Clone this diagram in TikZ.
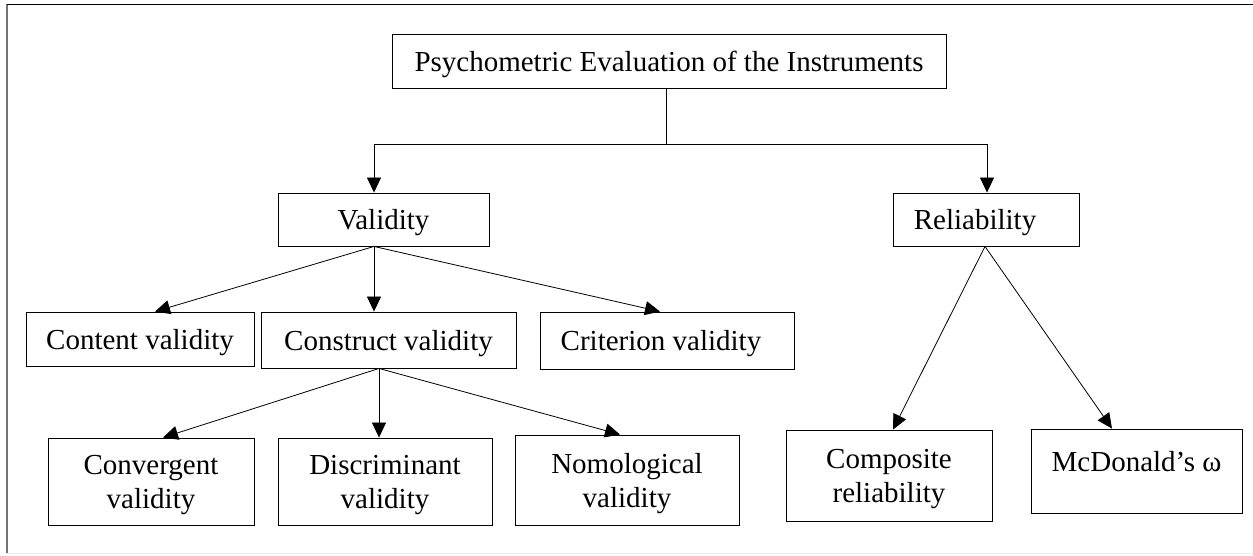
\documentclass[tikz,border=0pt]{standalone}
\usepackage{fontspec}
\setmainfont{Liberation Serif}
\usetikzlibrary{arrows.meta}
\begin{document}
\begin{tikzpicture}[x=1pt,y=-1pt,
  box/.style={draw=black, line width=0.9pt, rectangle, inner sep=0pt,
    align=center, text depth=0pt, font=\fontsize{29}{34}\selectfont},
  arr/.style={draw=black, line width=0.8pt, -{Triangle[length=15pt,width=14pt]}},
  link/.style={draw=black, line width=0.8pt}]
\useasboundingbox (0,0) rectangle (1253,555);
% page frame
\draw[black!55, line width=2pt] (7,4) -- (7,553);
\draw[black, line width=1pt] (7,4) -- (1253,4);
\draw[black!8, line width=1pt] (7,553) -- (1253,553);

% boxes
\node[box, minimum width=554pt, minimum height=54pt] (top) at (669,61) {Psychometric Evaluation of the Instruments};
\node[box, minimum width=211pt, minimum height=53pt] (validity) at (383.5,219.5) {Validity};
\node[box, minimum width=186pt, minimum height=53pt] (reliability) at (986,219.5) {\makebox[0pt]{\hspace*{-22pt}Reliability}};
\node[box, minimum width=228pt, minimum height=54pt] (content) at (140,339) {Content validity};
\node[box, minimum width=255pt, minimum height=56pt] (construct) at (388.5,340) {Construct validity};
\node[box, minimum width=254pt, minimum height=57pt] (criterion) at (667,340.5) {\makebox[0pt]{\hspace*{-12pt}Criterion validity}};
\node[box, minimum width=206pt, minimum height=87pt] (convergent) at (151,481.5) {Convergent\\validity};
\node[box, minimum width=214pt, minimum height=87pt] (discriminant) at (385,481.5) {Discriminant\\validity};
\node[box, minimum width=224pt, minimum height=90pt] (nomological) at (627,480) {Nomological\\validity};
\node[box, minimum width=206pt, minimum height=91pt] (composite) at (889,475.5) {Composite\\reliability};
\node[box, minimum width=211pt, minimum height=84pt] (omega) at (1136.5,471) {\raisebox{0pt}[0pt][0pt]{McDonald’s ω}};

% top-level split
\coordinate (bus) at (666,144);
\draw[link] ([xshift=-3pt]top.south) -- (bus);
\draw[arr] (bus) -| ([xshift=-9.5pt]validity.north);
\draw[arr] (bus) -| ([xshift=1pt]reliability.north);

% validity branches
\draw[arr] ([xshift=-9.5pt]validity.south) -- ([xshift=15pt]content.north);
\draw[arr] ([xshift=-9.5pt]validity.south) -- ([xshift=-14.5pt]construct.north);
\draw[arr] ([xshift=-9.5pt]validity.south) -- ([xshift=-7pt]criterion.north);

% construct validity branches
\draw[arr] ([xshift=-9.5pt]construct.south) -- ([xshift=12pt]convergent.north);
\draw[arr] ([xshift=-9.5pt]construct.south) -- ([xshift=-6pt]discriminant.north);
\draw[arr] ([xshift=-9.5pt]construct.south) -- ([xshift=-7pt]nomological.north);

% reliability branches
\draw[arr] ([xshift=-1pt]reliability.south) -- ([xshift=4pt]composite.north);
\draw[arr] ([xshift=-1pt]reliability.south) -- ([xshift=-24.5pt]omega.north);
\end{tikzpicture}
\end{document}
